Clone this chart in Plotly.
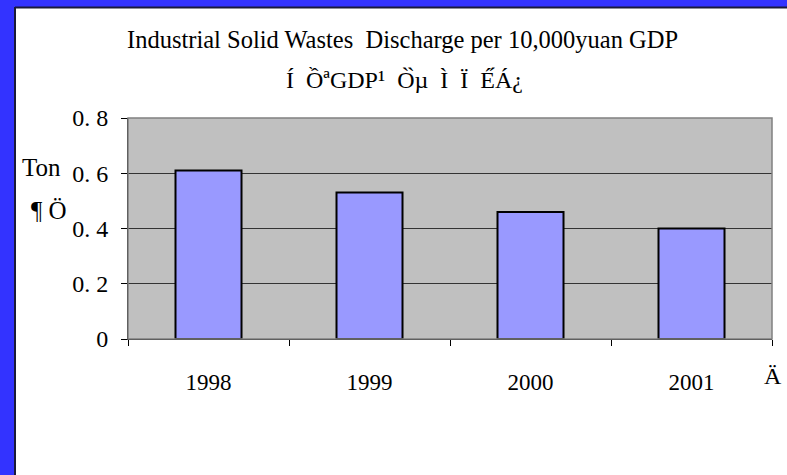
import plotly.graph_objects as go

# data
years = ["1998", "1999", "2000", "2001"]
waste_per_gdp = [0.61, 0.53, 0.46, 0.40]
y_ticks = [0, 0.2, 0.4, 0.6, 0.8]
y_tick_text = ["0", "0. 2", "0. 4", "0. 6", "0. 8"]

title_en = "Industrial Solid Wastes  Discharge per 10,000yuan GDP"
title_garbled = "Í  ỒªGDP¹  Ò̀µ  Ì  Ï  É́Á¿"
unit_lines = ["Ton", "¶ Ö"]
x_title = "Ä"

W, H = 787, 475
L, R, T, B = 128, 15, 118, 136
PW, PH = W - L - R, H - T - B


def px(x):
    return (x - L) / PW


def py(y):
    return (H - B - y) / PH


FONT = "Liberation Serif, Times New Roman, serif"
BLUE = "#3333FF"

fig = go.Figure()
fig.add_trace(
    go.Bar(
        x=years,
        y=waste_per_gdp,
        marker=dict(color="#9999FF", line=dict(color="black", width=2)),
        width=0.41,
    )
)

fig.update_layout(
    width=W,
    height=H,
    margin=dict(l=L, r=R, t=T, b=B, pad=0),
    paper_bgcolor="white",
    plot_bgcolor="#C0C0C0",
    showlegend=False,
    font=dict(family=FONT, color="black"),
    xaxis=dict(
        type="category",
        showgrid=False,
        showline=True,
        linecolor="black",
        linewidth=1,
        ticks="outside",
        tickson="boundaries",
        ticklen=6,
        tickcolor="black",
        tickfont=dict(size=23),
        ticklabelstandoff=22,
    ),
    yaxis=dict(
        range=[0, 0.8],
        tickvals=y_ticks,
        ticktext=y_tick_text,
        showgrid=True,
        gridcolor="#333333",
        gridwidth=1,
        zeroline=False,
        showline=True,
        linecolor="black",
        linewidth=1,
        ticks="outside",
        ticklen=6,
        tickcolor="black",
        tickfont=dict(size=24),
        ticklabelstandoff=8,
    ),
    shapes=[
        # blue frame: top band and left band with a dark inner edge
        dict(type="rect", xref="paper", yref="paper", layer="below",
             x0=px(-5), x1=px(W + 5), y0=py(7), y1=py(-5),
             fillcolor=BLUE, line=dict(width=0)),
        dict(type="rect", xref="paper", yref="paper", layer="below",
             x0=px(-5), x1=px(14), y0=py(H + 5), y1=py(-5),
             fillcolor=BLUE, line=dict(width=0)),
        dict(type="line", xref="paper", yref="paper", layer="below",
             x0=px(15), x1=px(W + 5), y0=py(7.5), y1=py(7.5),
             line=dict(color="#1a1a3a", width=2)),
        dict(type="line", xref="paper", yref="paper", layer="below",
             x0=px(15), x1=px(15), y0=py(7), y1=py(H + 5),
             line=dict(color="#1a1a3a", width=2)),
        # plot area outline
        dict(type="rect", xref="paper", yref="paper", layer="above",
             x0=0, x1=1, y0=0, y1=1,
             line=dict(color="#808080", width=1.5)),
    ],
    annotations=[
        dict(text=title_en, xref="paper", yref="paper", x=px(402), y=py(40),
             showarrow=False, font=dict(size=24.5), xanchor="center", yanchor="middle"),
        dict(text=title_garbled, xref="paper", yref="paper", x=px(404), y=py(80),
             showarrow=False, font=dict(size=24), xanchor="center", yanchor="middle"),
        dict(text=unit_lines[0], xref="paper", yref="paper", x=px(20), y=py(167),
             showarrow=False, font=dict(size=25), xanchor="left", yanchor="middle"),
        dict(text=unit_lines[1], xref="paper", yref="paper", x=px(29), y=py(210),
             showarrow=False, font=dict(size=25), xanchor="left", yanchor="middle"),
        dict(text=x_title, xref="paper", yref="paper", x=px(762), y=py(376),
             showarrow=False, font=dict(size=24), xanchor="left", yanchor="middle"),
    ],
)

# drop the browser's default page margin so the figure sits at (0, 0)
fig.write_html(
    "out.html",
    config={"displayModeBar": False},
    post_script="document.body.style.margin='0';document.body.style.overflow='hidden';",
)
